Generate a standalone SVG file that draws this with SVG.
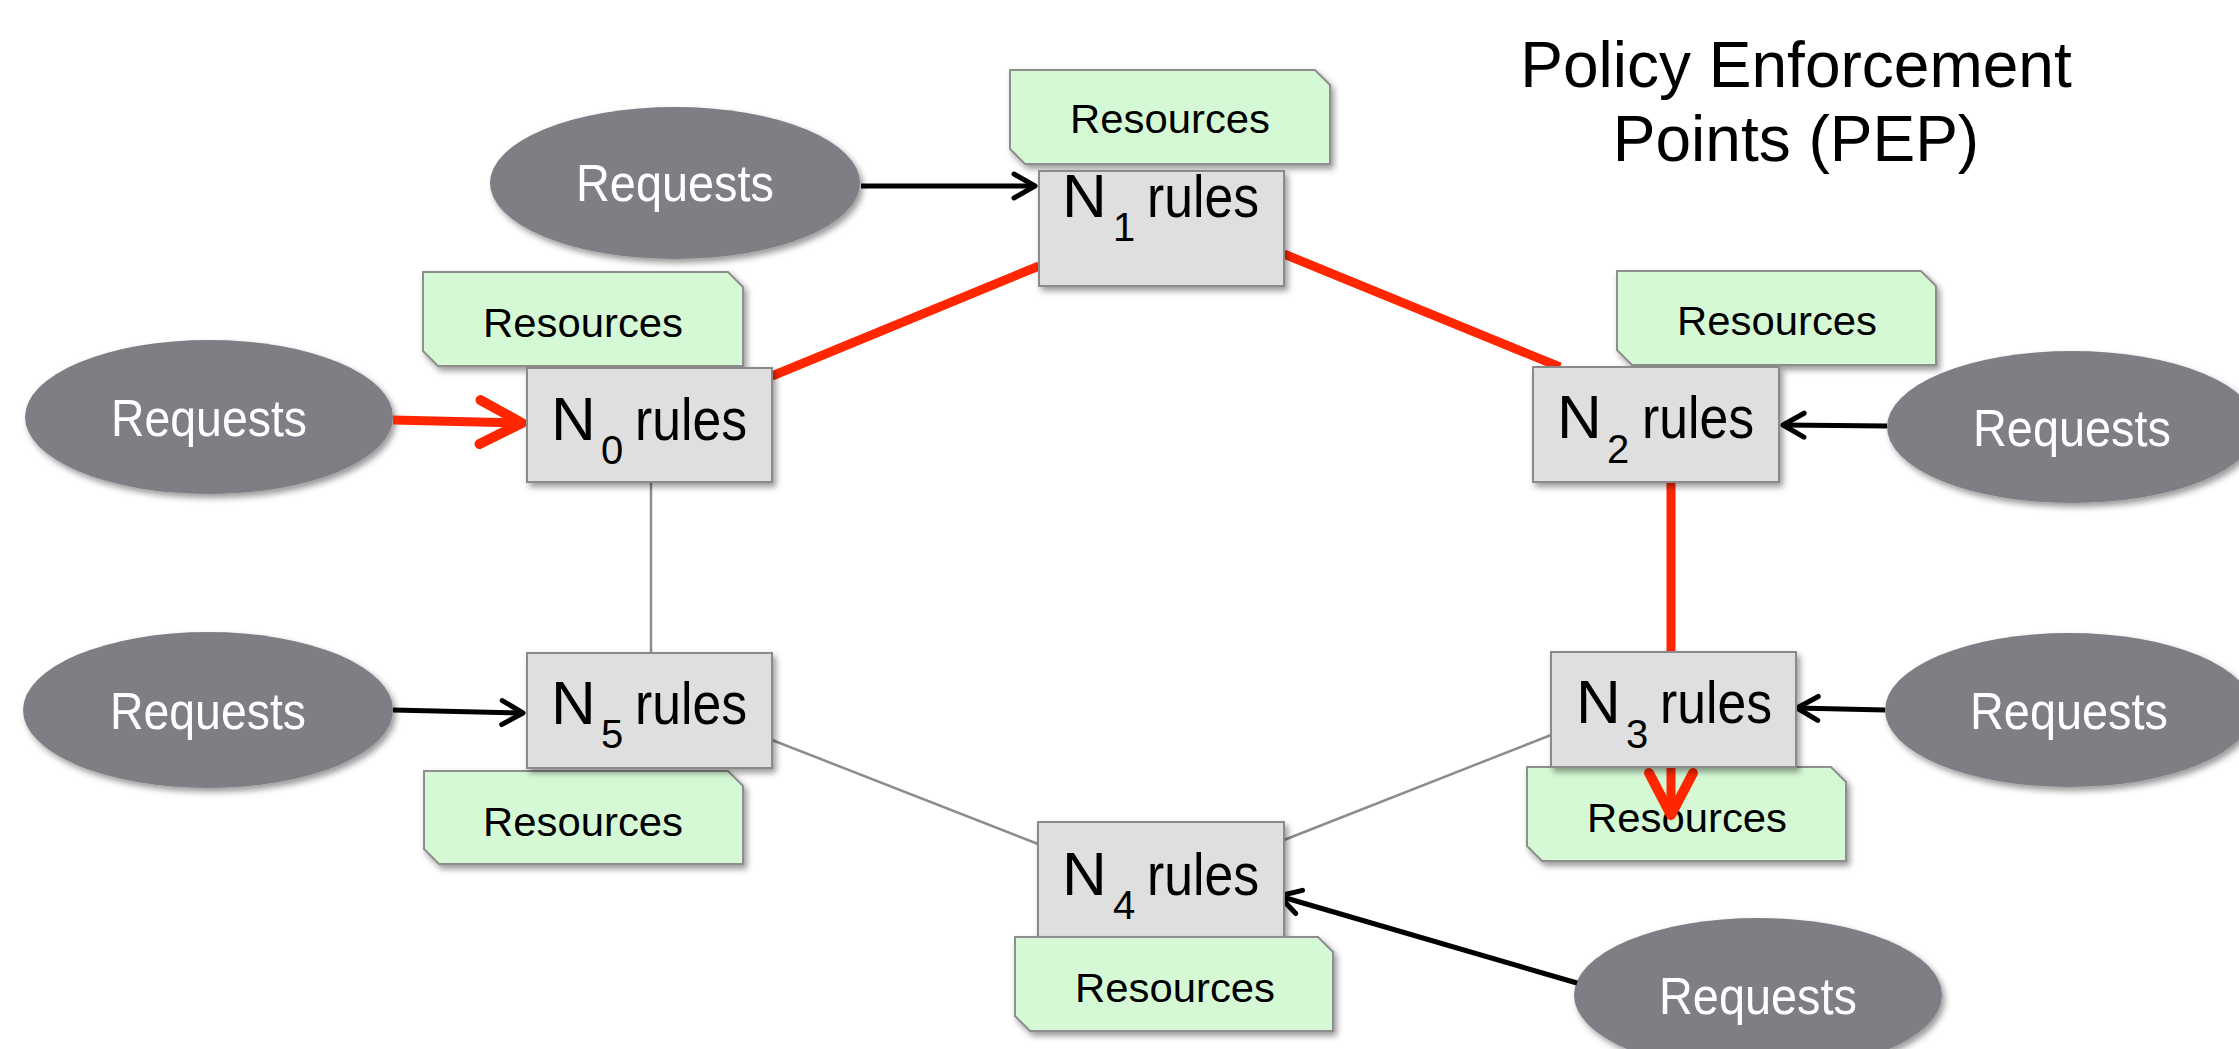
<svg xmlns="http://www.w3.org/2000/svg" width="2239" height="1049" viewBox="0 0 2239 1049">
<defs>
<filter id="sh" x="-10%" y="-10%" width="130%" height="140%">
<feDropShadow dx="3" dy="4" stdDeviation="3" flood-color="#000" flood-opacity="0.4"/>
</filter>
<marker id="ab" markerUnits="userSpaceOnUse" viewBox="-30 -20 40 40" markerWidth="40" markerHeight="40" refX="0" refY="0" orient="auto" overflow="visible">
<path d="M-21 -12 L0 0 L-21 12" fill="none" stroke="#000" stroke-width="5" stroke-linecap="round" stroke-linejoin="round"/>
</marker>
<marker id="ar" markerUnits="userSpaceOnUse" viewBox="-60 -40 80 80" markerWidth="80" markerHeight="80" refX="0" refY="0" orient="auto" overflow="visible">
<path d="M-42 -22 L0 0 L-42 22" fill="none" stroke="#ff2600" stroke-width="10" stroke-linecap="round" stroke-linejoin="round"/>
</marker>
</defs>
<style>
.req{fill:#807e84;filter:url(#sh)}
.reqt{font-family:"Liberation Sans",Arial,sans-serif;font-size:52px;fill:#fff;text-anchor:middle}
.res{fill:#d5f9d5;stroke:#8e8e8e;stroke-width:2;filter:url(#sh)}
.rest{font-family:"Liberation Sans",Arial,sans-serif;font-size:40px;fill:#000;text-anchor:middle}
.box{fill:#dfdfdf;stroke:#8a8a8a;stroke-width:2;filter:url(#sh)}
.n{font-family:"Liberation Sans",Arial,sans-serif;font-size:62px;fill:#000}
.sub{font-family:"Liberation Sans",Arial,sans-serif;font-size:40px;fill:#000}
.ru{font-family:"Liberation Sans",Arial,sans-serif;font-size:60px;fill:#000}
.title{font-family:"Liberation Sans",Arial,sans-serif;font-size:64px;fill:#000;text-anchor:middle}
.red{stroke:#ff2600;stroke-width:9;fill:none}
.gray{stroke:#8c8c8c;stroke-width:2.5;fill:none}
.blk{stroke:#000;stroke-width:5;fill:none}
</style>
<rect width="2239" height="1049" fill="#fff"/>

<g id="title">
<text class="title" x="1796" y="87">Policy Enforcement</text>
<text class="title" x="1796" y="161">Points (PEP)</text>
</g>

<g id="req1"><ellipse class="req" cx="675" cy="183" rx="185" ry="76"/><text class="reqt" x="675" y="201" textLength="198" lengthAdjust="spacingAndGlyphs">Requests</text></g>
<g id="req0"><ellipse class="req" cx="209" cy="417" rx="184" ry="77"/><text class="reqt" x="209" y="436" textLength="196" lengthAdjust="spacingAndGlyphs">Requests</text></g>
<g id="req5"><ellipse class="req" cx="208" cy="710" rx="185" ry="78"/><text class="reqt" x="208" y="729" textLength="196" lengthAdjust="spacingAndGlyphs">Requests</text></g>
<g id="req2"><ellipse class="req" cx="2072" cy="427" rx="185" ry="76"/><text class="reqt" x="2072" y="446" textLength="198" lengthAdjust="spacingAndGlyphs">Requests</text></g>
<g id="req3"><ellipse class="req" cx="2069" cy="710" rx="184" ry="77"/><text class="reqt" x="2069" y="729" textLength="198" lengthAdjust="spacingAndGlyphs">Requests</text></g>
<g id="req4"><ellipse class="req" cx="1758" cy="995" rx="184" ry="77"/><text class="reqt" x="1758" y="1014" textLength="198" lengthAdjust="spacingAndGlyphs">Requests</text></g>

<g id="res1"><path class="res" d="M1010 70 H1315 L1330 85 V164 H1025 L1010 149 Z"/><text class="rest" x="1170" y="133" textLength="200" lengthAdjust="spacingAndGlyphs">Resources</text></g>
<g id="res0"><path class="res" d="M423 272 H728 L743 287 V366 H438 L423 351 Z"/><text class="rest" x="583" y="337" textLength="200" lengthAdjust="spacingAndGlyphs">Resources</text></g>
<g id="res2"><path class="res" d="M1617 271 H1921 L1936 286 V365 H1632 L1617 350 Z"/><text class="rest" x="1777" y="335" textLength="200" lengthAdjust="spacingAndGlyphs">Resources</text></g>
<g id="res3"><path class="res" d="M1527 767 H1831 L1846 782 V861 H1542 L1527 846 Z"/><text class="rest" x="1687" y="832" textLength="200" lengthAdjust="spacingAndGlyphs">Resources</text></g>
<g id="res5"><path class="res" d="M424 771 H728 L743 786 V864 H439 L424 849 Z"/><text class="rest" x="583" y="836" textLength="200" lengthAdjust="spacingAndGlyphs">Resources</text></g>

<g id="connectors">
<line class="red" x1="772" y1="376" x2="1039" y2="266"/>
<line class="red" x1="1284" y1="254" x2="1560" y2="367"/>
<path class="red" d="M1671 482 V815" marker-end="url(#ar)"/>
<path class="red" d="M393 420 L522 423" marker-end="url(#ar)"/>
<line class="gray" x1="651" y1="482" x2="651" y2="653"/>
<line class="gray" x1="772" y1="740" x2="1038" y2="844"/>
<line class="gray" x1="1284" y1="840" x2="1551" y2="735"/>
<path class="blk" d="M861 186 L1035 186" marker-end="url(#ab)"/>
<path class="blk" d="M393 710 L523 713" marker-end="url(#ab)"/>
<path class="blk" d="M1887 426 L1783 425" marker-end="url(#ab)"/>
<path class="blk" d="M1885 710 L1797 708" marker-end="url(#ab)"/>
<path class="blk" d="M1577 983 L1279 896" marker-end="url(#ab)"/>
</g>

<g id="n0"><rect class="box" x="527" y="368" width="245" height="114"/><text class="n" x="551" y="440">N</text><text class="sub" x="601" y="464">0</text><text class="ru" x="635" y="440" textLength="112" lengthAdjust="spacingAndGlyphs">rules</text></g>
<g id="n1"><rect class="box" x="1039" y="171" width="245" height="115"/><text class="n" x="1062" y="217">N</text><text class="sub" x="1113" y="241">1</text><text class="ru" x="1147" y="217" textLength="112" lengthAdjust="spacingAndGlyphs">rules</text></g>
<g id="n2"><rect class="box" x="1533" y="367" width="246" height="115"/><text class="n" x="1557" y="438">N</text><text class="sub" x="1607" y="463">2</text><text class="ru" x="1642" y="438" textLength="112" lengthAdjust="spacingAndGlyphs">rules</text></g>
<g id="n3"><rect class="box" x="1551" y="652" width="245" height="115"/><text class="n" x="1576" y="723">N</text><text class="sub" x="1626" y="748">3</text><text class="ru" x="1660" y="723" textLength="112" lengthAdjust="spacingAndGlyphs">rules</text></g>
<g id="n4"><rect class="box" x="1038" y="822" width="246" height="115"/><text class="n" x="1062" y="895">N</text><text class="sub" x="1113" y="919">4</text><text class="ru" x="1147" y="895" textLength="112" lengthAdjust="spacingAndGlyphs">rules</text></g>
<g id="n5"><rect class="box" x="527" y="653" width="245" height="115"/><text class="n" x="551" y="724">N</text><text class="sub" x="601" y="748">5</text><text class="ru" x="635" y="724" textLength="112" lengthAdjust="spacingAndGlyphs">rules</text></g>

<g id="res4"><path class="res" d="M1015 937 H1318 L1333 952 V1031 H1030 L1015 1016 Z"/><text class="rest" x="1175" y="1002" textLength="200" lengthAdjust="spacingAndGlyphs">Resources</text></g>
</svg>
